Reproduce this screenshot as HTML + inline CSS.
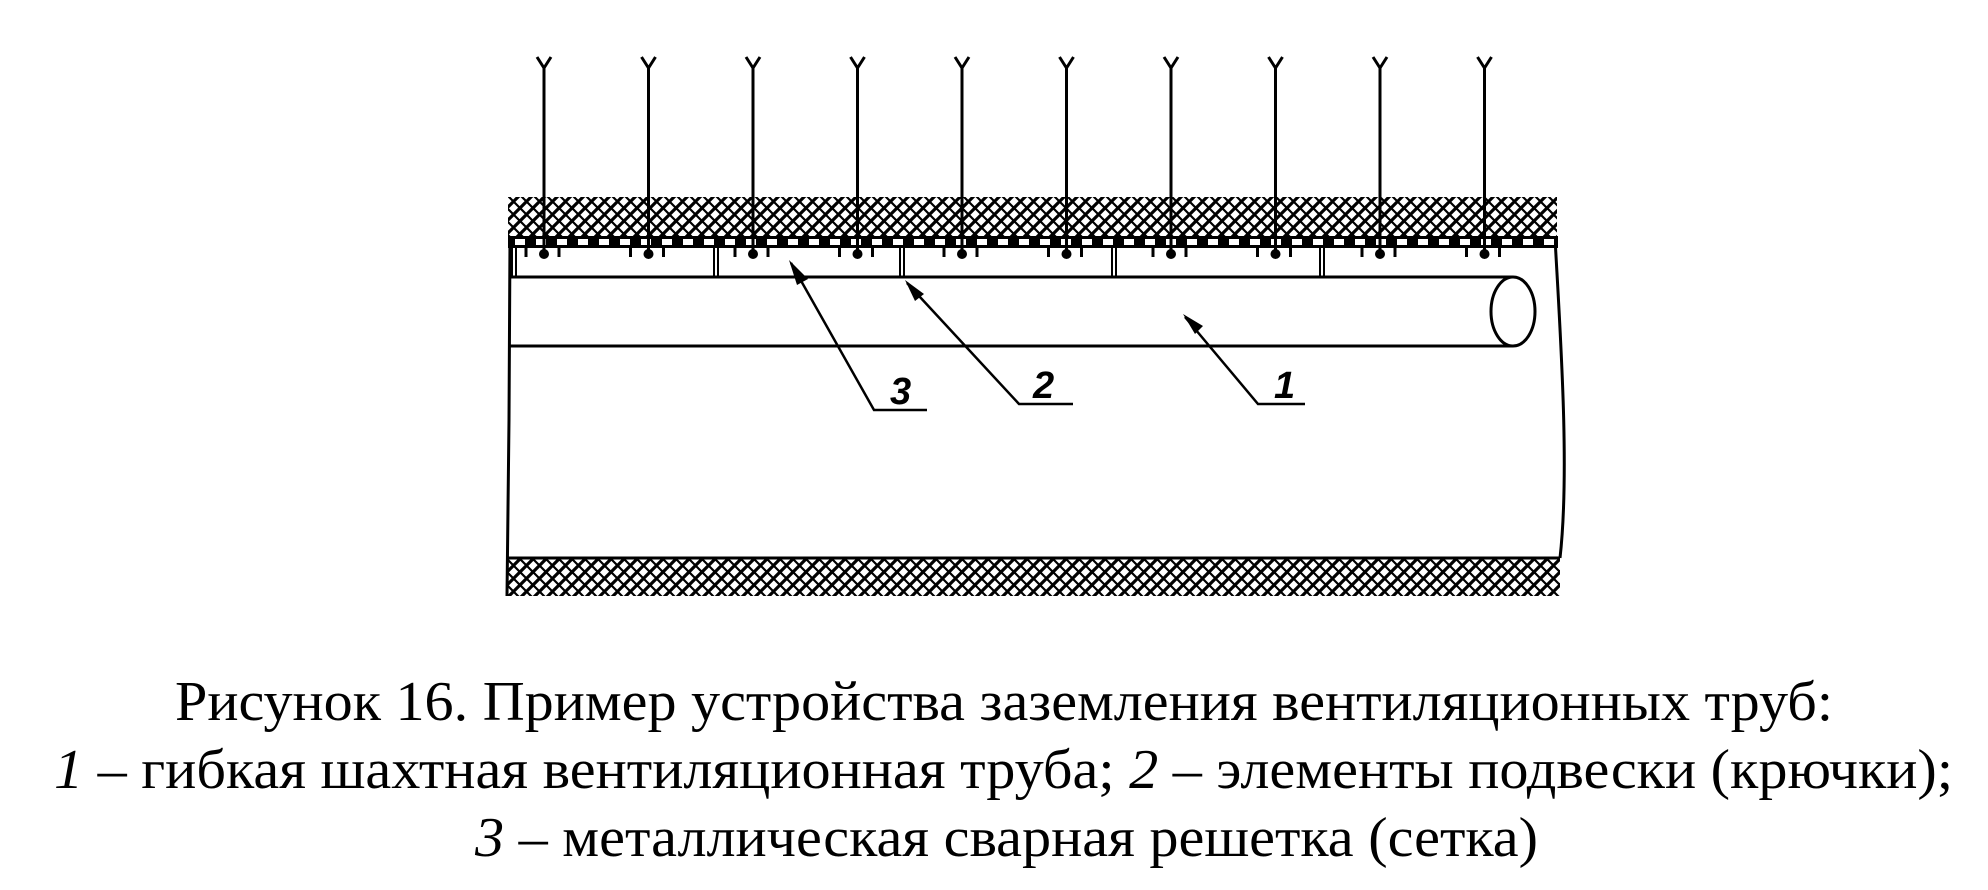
<!DOCTYPE html>
<html><head><meta charset="utf-8"><style>
html,body{margin:0;padding:0;background:#fff;}
svg{display:block;}
</style></head><body>
<svg width="1988" height="890" viewBox="0 0 1988 890" xmlns="http://www.w3.org/2000/svg">
<defs>
<pattern id="h" width="13" height="13" patternUnits="userSpaceOnUse">
<path d="M-2,15 L15,-2 M-8.5,8.5 L8.5,-8.5 M4.5,21.5 L21.5,4.5" stroke="#000" stroke-width="3.2"/>
<path d="M-2,-2 L15,15 M-8.5,4.5 L8.5,21.5 M4.5,-8.5 L21.5,8.5" stroke="#000" stroke-width="2.2"/>
</pattern>
</defs>
<rect x="508" y="197" width="1049" height="40" fill="url(#h)"/>
<rect x="508" y="558" width="1052" height="38" fill="url(#h)"/>
<line x1="508" y1="558" x2="1560" y2="558" stroke="#000" stroke-width="3"/>
<rect x="508" y="236" width="1050" height="12" fill="#000"/>
<path d="M510,238 L509,420 L507,596" stroke="#000" stroke-width="3" fill="none"/>
<path d="M1555,238 C1560,330 1570,470 1560,558" stroke="#000" stroke-width="3" fill="none"/>
<line x1="509" y1="277" x2="1513" y2="277" stroke="#000" stroke-width="3"/>
<line x1="509" y1="346" x2="1513" y2="346" stroke="#000" stroke-width="3"/>
<ellipse cx="1513" cy="311.5" rx="22" ry="34.5" stroke="#000" stroke-width="3" fill="#fff"/>
<g stroke="#000" stroke-width="2">
<path d="M512,248V277 M516,248V277"/>
<path d="M714,248V277 M718,248V277"/>
<path d="M900,248V277 M904,248V277"/>
<path d="M1112,248V277 M1116,248V277"/>
<path d="M1320,248V277 M1324,248V277"/>
</g>
<g stroke="#000" stroke-width="2.5" fill="none">
<path d="M791,263 L874,410 L927,410"/>
<path d="M907,283 L1019,404 L1073,404"/>
<path d="M1185,317 L1258,404 L1305,404"/>
</g>
<g fill="#000">
<polygon points="789,260 808,279 797,285"/>
<polygon points="905,280 924,294 915,301"/>
<polygon points="1183,314 1203,326 1195,334"/>
</g>
<g font-family="Liberation Sans, sans-serif" font-style="italic" font-weight="bold" font-size="38" fill="#000">
<text x="890" y="404">3</text>
<text x="1033" y="398">2</text>
<text x="1274" y="398">1</text>
</g>
<g font-family="Liberation Serif, serif" font-size="56" fill="#000">
<text x="175" y="720" textLength="1658" lengthAdjust="spacingAndGlyphs">Рисунок 16. Пример устройства заземления вентиляционных труб:</text>
<text x="54" y="788" textLength="1899" lengthAdjust="spacingAndGlyphs"><tspan font-style="italic">1</tspan> – гибкая шахтная вентиляционная труба; <tspan font-style="italic">2</tspan> – элементы подвески (крючки);</text>
<text x="475" y="856" textLength="1063" lengthAdjust="spacingAndGlyphs"><tspan font-style="italic">3</tspan> – металлическая сварная решетка (сетка)</text>
</g>
<g fill="#fff">
<rect x="515" y="239" width="10" height="6"/><rect x="536" y="239" width="10" height="6"/><rect x="557" y="239" width="10" height="6"/><rect x="578" y="239" width="10" height="6"/><rect x="599" y="239" width="10" height="6"/><rect x="620" y="239" width="10" height="6"/><rect x="641" y="239" width="10" height="6"/><rect x="662" y="239" width="10" height="6"/><rect x="683" y="239" width="10" height="6"/><rect x="704" y="239" width="10" height="6"/><rect x="725" y="239" width="10" height="6"/><rect x="746" y="239" width="10" height="6"/><rect x="767" y="239" width="10" height="6"/><rect x="788" y="239" width="10" height="6"/><rect x="809" y="239" width="10" height="6"/><rect x="830" y="239" width="10" height="6"/><rect x="851" y="239" width="10" height="6"/><rect x="872" y="239" width="10" height="6"/><rect x="893" y="239" width="10" height="6"/><rect x="914" y="239" width="10" height="6"/><rect x="935" y="239" width="10" height="6"/><rect x="956" y="239" width="10" height="6"/><rect x="977" y="239" width="10" height="6"/><rect x="998" y="239" width="10" height="6"/><rect x="1019" y="239" width="10" height="6"/><rect x="1040" y="239" width="10" height="6"/><rect x="1061" y="239" width="10" height="6"/><rect x="1082" y="239" width="10" height="6"/><rect x="1103" y="239" width="10" height="6"/><rect x="1124" y="239" width="10" height="6"/><rect x="1145" y="239" width="10" height="6"/><rect x="1166" y="239" width="10" height="6"/><rect x="1187" y="239" width="10" height="6"/><rect x="1208" y="239" width="10" height="6"/><rect x="1229" y="239" width="10" height="6"/><rect x="1250" y="239" width="10" height="6"/><rect x="1271" y="239" width="10" height="6"/><rect x="1292" y="239" width="10" height="6"/><rect x="1313" y="239" width="10" height="6"/><rect x="1334" y="239" width="10" height="6"/><rect x="1355" y="239" width="10" height="6"/><rect x="1376" y="239" width="10" height="6"/><rect x="1397" y="239" width="10" height="6"/><rect x="1418" y="239" width="10" height="6"/><rect x="1439" y="239" width="10" height="6"/><rect x="1460" y="239" width="10" height="6"/><rect x="1481" y="239" width="10" height="6"/><rect x="1502" y="239" width="10" height="6"/><rect x="1523" y="239" width="10" height="6"/><rect x="1544" y="239" width="10" height="6"/>
</g>
<g stroke="#000" stroke-width="3" fill="none">
<path d="M544,68V252 M537,57L544,68L551,57 M526,248V257 M559,248V257"/>
<path d="M648.5,68V252 M641.5,57L648.5,68L655.5,57 M630.5,248V257 M663.5,248V257"/>
<path d="M753,68V252 M746,57L753,68L760,57 M735,248V257 M768,248V257"/>
<path d="M857.5,68V252 M850.5,57L857.5,68L864.5,57 M839.5,248V257 M872.5,248V257"/>
<path d="M962,68V252 M955,57L962,68L969,57 M944,248V257 M977,248V257"/>
<path d="M1066.5,68V252 M1059.5,57L1066.5,68L1073.5,57 M1048.5,248V257 M1081.5,248V257"/>
<path d="M1171,68V252 M1164,57L1171,68L1178,57 M1153,248V257 M1186,248V257"/>
<path d="M1275.5,68V252 M1268.5,57L1275.5,68L1282.5,57 M1257.5,248V257 M1290.5,248V257"/>
<path d="M1380,68V252 M1373,57L1380,68L1387,57 M1362,248V257 M1395,248V257"/>
<path d="M1484.5,68V252 M1477.5,57L1484.5,68L1491.5,57 M1466.5,248V257 M1499.5,248V257"/>
</g>
<g fill="#000">
<circle cx="544" cy="254" r="5"/><circle cx="648.5" cy="254" r="5"/><circle cx="753" cy="254" r="5"/><circle cx="857.5" cy="254" r="5"/><circle cx="962" cy="254" r="5"/><circle cx="1066.5" cy="254" r="5"/><circle cx="1171" cy="254" r="5"/><circle cx="1275.5" cy="254" r="5"/><circle cx="1380" cy="254" r="5"/><circle cx="1484.5" cy="254" r="5"/>
</g>
</svg>
</body></html>
